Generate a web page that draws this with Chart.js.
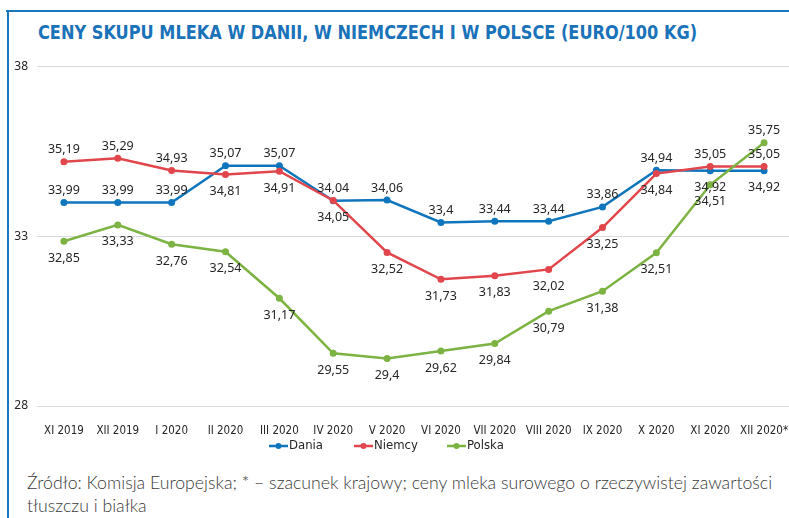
<!DOCTYPE html>
<html>
<head>
<meta charset="utf-8">
<title>Ceny skupu mleka</title>
<script src="https://cdn.jsdelivr.net/npm/chart.js"></script>
<style>
  body { margin: 0; width: 789px; height: 518px; overflow: hidden; background: #fff; position: relative; }
  #frameTop { position: absolute; left: 6px; top: 10px; width: 783px; height: 2px; background: #1a77bd; }
  #frameLeft { position: absolute; left: 7px; top: 10px; width: 2px; height: 508px; background: #1a77bd; }
  #title { position: absolute; left: 38px; top: 21px; font-family: 'DejaVu Sans Condensed', sans-serif; font-weight: bold; font-size: 19px; color: #1a72b9; white-space: nowrap; transform-origin: 0 0; }
  #wrap { position: absolute; left: 10px; top: 50px; }
  .leg { position: absolute; top: 437px; font-family: 'DejaVu Sans Condensed', sans-serif; font-size: 13px; color: #262626; white-space: nowrap; }
  .leg canvas { vertical-align: middle; margin-right: 1px; }
  #footer { position: absolute; left: 27px; top: 471px; font-family: Lato, 'Open Sans', sans-serif; font-weight: 300; font-size: 17.7px; line-height: 23px; color: #3a3a3a; width: 770px; }
</style>
</head>
<body>
<div id="frameTop"></div>
<div id="frameLeft"></div>
<div id="title">CENY SKUPU MLEKA W DANII, W NIEMCZECH I W POLSCE (EURO/100 KG)</div>
<div id="wrap"><canvas id="myChart" width="800" height="390"></canvas></div>
<div id="footer">Źródło: Komisja Europejska; * – szacunek krajowy; ceny mleka surowego o rzeczywistej zawartości<br>tłuszczu i białka</div>
<script>
// data
var months = ['XI 2019', 'XII 2019', 'I 2020', 'II 2020', 'III 2020', 'IV 2020', 'V 2020', 'VI 2020', 'VII 2020', 'VIII 2020', 'IX 2020', 'X 2020', 'XI 2020', 'XII 2020*'];
var dania  = [33.99, 33.99, 33.99, 35.07, 35.07, 34.04, 34.06, 33.4, 33.44, 33.44, 33.86, 34.94, 34.92, 34.92];
var niemcy = [35.19, 35.29, 34.93, 34.81, 34.91, 34.05, 32.52, 31.73, 31.83, 32.02, 33.25, 34.84, 35.05, 35.05];
var polska = [32.85, 33.33, 32.76, 32.54, 31.17, 29.55, 29.4, 29.62, 29.84, 30.79, 31.38, 32.51, 34.51, 35.75];
var yTicks = [28, 33, 38];

// where each value label sits: a = above, b = below
var daniaPos  = ['a','a','a','a','a','a','a','a','a','a','a','a','b','b'];
var niemcyPos = ['a','a','a','b','b','b','b','b','b','b','b','b','a','a'];
var polskaPos = ['b','b','b','b','b','b','b','b','b','b','b','b','b','a'];

var colors = { dania: '#0f76bd', niemcy: '#e0464b', polska: '#7cb342' };

// squeeze the title to the width it has in the original
var t = document.getElementById('title');
t.style.transform = 'scaleX(' + (659 / t.offsetWidth) + ')';

var labelPlugin = {
  id: 'valueLabels',
  afterDatasetsDraw: function (chart) {
    var ctx = chart.ctx;
    ctx.save();
    ctx.font = '12.5px "Noto Sans", sans-serif';
    ctx.fillStyle = '#262626';
    ctx.textAlign = 'center';
    ctx.textBaseline = 'middle';
    chart.data.datasets.forEach(function (ds, di) {
      var meta = chart.getDatasetMeta(di);
      meta.data.forEach(function (pt, i) {
        var txt = String(ds.data[i]).replace('.', ',');
        var dy = ds.labelPos[i] === 'a' ? -12 : 17;
        ctx.fillText(txt, pt.x, pt.y + dy);
      });
    });
    ctx.restore();
  }
};

function series(label, data, color, pos, order) {
  return {
    label: label,
    data: data,
    labelPos: pos,
    order: order,
    borderColor: color,
    backgroundColor: color,
    borderWidth: 2.5,
    pointRadius: 3.5,
    pointHoverRadius: 3.5,
    pointBorderWidth: 0,
    tension: 0
  };
}

const ctx = document.getElementById('myChart');
new Chart(ctx, {
  type: 'line',
  plugins: [labelPlugin],
  data: {
    labels: months,
    datasets: [
      series('Dania', dania, colors.dania, daniaPos, 2),
      series('Niemcy', niemcy, colors.niemcy, niemcyPos, 1),
      series('Polska', polska, colors.polska, polskaPos, 0)
    ]
  },
  options: {
    responsive: false,
    animation: false,
    layout: { padding: { left: 0, right: 19, top: 15, bottom: 0 } },
    plugins: {
      legend: { display: false },
      tooltip: { enabled: false }
    },
    scales: {
      x: {
        offset: true,
        grid: { display: false },
        border: { display: false },
        ticks: {
          maxRotation: 0,
          autoSkip: false,
          padding: 10,
          color: '#262626',
          font: { family: "'DejaVu Sans Condensed', sans-serif", size: 11.5 }
        },
        afterFit: function (s) { s.height = 34; }
      },
      y: {
        min: 28,
        max: 38,
        afterBuildTicks: function (s) { s.ticks = yTicks.map(function (v) { return { value: v }; }); },
        grid: { color: '#d9d9d9', drawTicks: false },
        border: { display: false },
        ticks: {
          padding: 9,
          color: '#262626',
          font: { family: "'Noto Sans', sans-serif", size: 12 }
        },
        afterFit: function (s) { s.width = 27; }
      }
    }
  }
});

// legend: a short line with a dot, then the name
[['Dania', colors.dania, 269], ['Niemcy', colors.niemcy, 354], ['Polska', colors.polska, 447]].forEach(function (it) {
  var span = document.createElement('span');
  span.className = 'leg';
  span.style.left = it[2] + 'px';
  var c = document.createElement('canvas');
  c.width = 19; c.height = 10;
  var g = c.getContext('2d');
  g.strokeStyle = it[1]; g.lineWidth = 2.5;
  g.beginPath(); g.moveTo(0, 5); g.lineTo(19, 5); g.stroke();
  g.fillStyle = it[1];
  g.beginPath(); g.arc(9.5, 5, 3, 0, Math.PI * 2); g.fill();
  span.appendChild(c);
  span.appendChild(document.createTextNode(it[0]));
  document.body.appendChild(span);
});
</script>
</body>
</html>
